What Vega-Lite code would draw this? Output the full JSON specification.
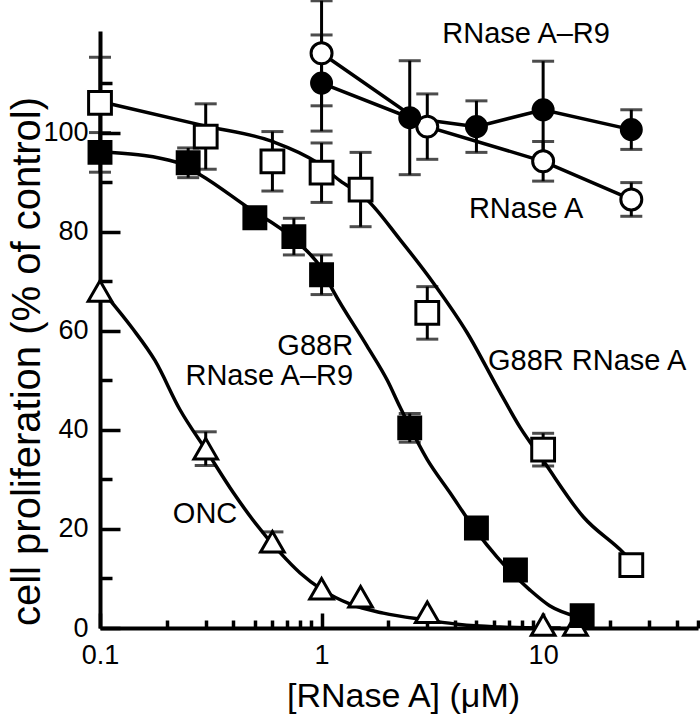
{
  "$schema": "https://vega.github.io/schema/vega-lite/v6.json",
  "width": 598,
  "height": 597,
  "autosize": {"type": "none"},
  "padding": {"left": 100, "top": 31, "right": 2, "bottom": 91},
  "background": "white",
  "config": {"view": {"stroke": null}, "font": "Liberation Sans"},
  "datasets": {
    "points": [
      {"series": "ONC", "x": 0.1, "y": 68, "err": 0},
      {"series": "ONC", "x": 0.3, "y": 36.2, "err": 3.4},
      {"series": "ONC", "x": 0.6, "y": 17.4, "err": 2},
      {"series": "ONC", "x": 1, "y": 7.9, "err": 0},
      {"series": "ONC", "x": 1.5, "y": 6.3, "err": 0},
      {"series": "ONC", "x": 3, "y": 3.2, "err": 0},
      {"series": "ONC", "x": 10, "y": 0.6, "err": 0},
      {"series": "ONC", "x": 14, "y": 0.6, "err": 0},
      {"series": "G88R", "x": 0.1, "y": 106, "err": 9.2},
      {"series": "G88R", "x": 0.3, "y": 99.2, "err": 6.6},
      {"series": "G88R", "x": 0.6, "y": 94.2, "err": 6},
      {"series": "G88R", "x": 1, "y": 91.9, "err": 6},
      {"series": "G88R", "x": 1.5, "y": 88.5, "err": 7.5},
      {"series": "G88R", "x": 3, "y": 63.6, "err": 5.3},
      {"series": "G88R", "x": 10, "y": 36, "err": 3.3},
      {"series": "G88R", "x": 25, "y": 12.7, "err": 0},
      {"series": "G88R-R9", "x": 0.1, "y": 96, "err": 4},
      {"series": "G88R-R9", "x": 0.25, "y": 93.9, "err": 3},
      {"series": "G88R-R9", "x": 0.5, "y": 82.8, "err": 0},
      {"series": "G88R-R9", "x": 0.75, "y": 79, "err": 3.7},
      {"series": "G88R-R9", "x": 1, "y": 71.3, "err": 4},
      {"series": "G88R-R9", "x": 2.5, "y": 40.4, "err": 2.9},
      {"series": "G88R-R9", "x": 5, "y": 20.2, "err": 0},
      {"series": "G88R-R9", "x": 7.5, "y": 11.7, "err": 0},
      {"series": "G88R-R9", "x": 15, "y": 2.5, "err": 0},
      {"series": "A", "x": 1, "y": 116, "err": 10.6},
      {"series": "A", "x": 3, "y": 101.2, "err": 6.6},
      {"series": "A", "x": 10, "y": 94.2, "err": 4},
      {"series": "A", "x": 25, "y": 86.5, "err": 3.4},
      {"series": "R9", "x": 1, "y": 110, "err": 9.7},
      {"series": "R9", "x": 2.5, "y": 103, "err": 11.5},
      {"series": "R9", "x": 5, "y": 101.2, "err": 5.2},
      {"series": "R9", "x": 10, "y": 104.6, "err": 9.8},
      {"series": "R9", "x": 25, "y": 100.6, "err": 4}
    ],
    "curves": [
      {"series": "ONC", "x": 0.108, "y": 66.8},
      {"series": "ONC", "x": 0.14, "y": 60.5},
      {"series": "ONC", "x": 0.177, "y": 54},
      {"series": "ONC", "x": 0.23, "y": 44},
      {"series": "ONC", "x": 0.3, "y": 36},
      {"series": "ONC", "x": 0.4, "y": 27.3},
      {"series": "ONC", "x": 0.49, "y": 21.8},
      {"series": "ONC", "x": 0.65, "y": 15.2},
      {"series": "ONC", "x": 0.8, "y": 11.1},
      {"series": "ONC", "x": 1.0, "y": 7.8},
      {"series": "ONC", "x": 1.35, "y": 4.8},
      {"series": "ONC", "x": 1.9, "y": 3.0},
      {"series": "ONC", "x": 3, "y": 1.6},
      {"series": "ONC", "x": 4.2, "y": 0.7},
      {"series": "ONC", "x": 6.4, "y": 0.2},
      {"series": "ONC", "x": 10, "y": 0},
      {"series": "ONC", "x": 12, "y": 0},
      {"series": "G88R", "x": 0.113, "y": 105.7},
      {"series": "G88R", "x": 0.3, "y": 101.3},
      {"series": "G88R", "x": 0.6, "y": 98.2},
      {"series": "G88R", "x": 0.95, "y": 94},
      {"series": "G88R", "x": 1.21, "y": 90.3},
      {"series": "G88R", "x": 1.6, "y": 86.5},
      {"series": "G88R", "x": 2.26, "y": 78.4},
      {"series": "G88R", "x": 3.19, "y": 69.7},
      {"series": "G88R", "x": 4.54, "y": 59.6},
      {"series": "G88R", "x": 6.4, "y": 47.5},
      {"series": "G88R", "x": 7.87, "y": 40.5},
      {"series": "G88R", "x": 10, "y": 33.8},
      {"series": "G88R", "x": 15.2, "y": 22.4},
      {"series": "G88R", "x": 23, "y": 15.2},
      {"series": "G88R", "x": 25, "y": 13.5},
      {"series": "G88R-R9", "x": 0.113, "y": 96},
      {"series": "G88R-R9", "x": 0.222, "y": 94},
      {"series": "G88R-R9", "x": 0.283, "y": 91.5},
      {"series": "G88R-R9", "x": 0.461, "y": 85},
      {"series": "G88R-R9", "x": 0.75, "y": 78.5},
      {"series": "G88R-R9", "x": 1.0, "y": 72.5},
      {"series": "G88R-R9", "x": 1.13, "y": 68},
      {"series": "G88R-R9", "x": 1.6, "y": 57},
      {"series": "G88R-R9", "x": 1.98, "y": 50},
      {"series": "G88R-R9", "x": 2.26, "y": 44.6},
      {"series": "G88R-R9", "x": 3.0, "y": 34},
      {"series": "G88R-R9", "x": 3.8, "y": 27.3},
      {"series": "G88R-R9", "x": 5.0, "y": 19.5},
      {"series": "G88R-R9", "x": 6.2, "y": 14.3},
      {"series": "G88R-R9", "x": 8.7, "y": 7.7},
      {"series": "G88R-R9", "x": 10.7, "y": 4.5},
      {"series": "G88R-R9", "x": 14.2, "y": 2.3}
    ],
    "labels": [
      {"x": 8.38, "y": 118.1, "text": "RNase A–R9"},
      {"x": 8.38, "y": 82.8, "text": "RNase A"},
      {"x": 15.8, "y": 52.1, "text": "G88R RNase A"},
      {"x": 0.298, "y": 21.2, "text": "ONC"}
    ],
    "rlabels": [
      {"x": 1.388, "y": 55.1, "text": "G88R"},
      {"x": 1.388, "y": 49.05, "text": "RNase A–R9"}
    ]
  },
  "layer": [
    {
      "data": {"name": "curves"},
      "mark": {"type": "line", "interpolate": "monotone", "strokeWidth": 3.5, "color": "black"},
      "encoding": {
        "x": {"field": "x", "type": "quantitative",
          "scale": {"type": "log", "domain": [0.1, 50], "nice": false},
          "axis": {"orient": "bottom", "values": [0.1, 1, 10], "format": "~g", "grid": false,
            "title": "[RNase A] (μM)", "titleFont": "Liberation Sans", "titleFontSize": 34, "titleFontWeight": "normal", "titleColor": "black",
            "titleX": 303, "titleY": 78, "titleBaseline": "alphabetic",
            "tickSize": -15, "tickWidth": 3.5, "tickColor": "black",
            "domainColor": "black", "domainWidth": 4,
            "labelFont": "Liberation Sans", "labelFontSize": 27, "labelColor": "black", "labelPadding": 29,
            "labelFlush": false, "labelOverlap": false}},
        "y": {"field": "y", "type": "quantitative",
          "scale": {"domain": [0, 120.5], "nice": false, "zero": false},
          "axis": {"orient": "left", "values": [0, 20, 40, 60, 80, 100], "format": "d", "grid": false,
            "title": "cell proliferation (% of control)", "titleFont": "Liberation Sans", "titleFontSize": 40, "titleFontWeight": "normal", "titleColor": "black",
            "titleX": -61, "titleY": 330, "titleBaseline": "alphabetic",
            "tickSize": -20, "tickWidth": 3.5, "tickColor": "black",
            "domainColor": "black", "domainWidth": 4,
            "labelFont": "Liberation Sans", "labelFontSize": 27, "labelColor": "black", "labelPadding": 32,
            "labelFlush": false, "labelOverlap": false}},
        "detail": {"field": "series"}
      }
    },
    {
      "data": {"name": "points"},
      "transform": [{"filter": "datum.series == 'A' || datum.series == 'R9'"}],
      "mark": {"type": "line", "strokeWidth": 3.5, "color": "black"},
      "encoding": {
        "x": {"field": "x", "type": "quantitative",
          "scale": {"type": "log", "domain": [0.1, 50], "nice": false},
          "axis": {"orient": "bottom", "values": [0.2, 0.3, 0.4, 0.5, 0.6, 0.7, 0.8, 0.9, 2, 3, 4, 5, 6, 7, 8, 9, 20, 30, 40, 50],
            "labels": false, "domain": false, "grid": false, "title": null,
            "tickSize": -8, "tickWidth": 3.5, "tickColor": "black"}},
        "y": {"field": "y", "type": "quantitative",
          "scale": {"domain": [0, 120.5], "nice": false, "zero": false},
          "axis": {"orient": "left", "values": [10, 30, 50, 70, 90, 110],
            "labels": false, "domain": false, "grid": false, "title": null,
            "tickSize": -12, "tickWidth": 3.5, "tickColor": "black"}},
        "detail": {"field": "series"}
      }
    },
    {
      "data": {"name": "points"},
      "transform": [{"filter": "datum.err > 0"}],
      "mark": {"type": "errorbar", "ticks": true, "size": 22, "thickness": 3, "color": "black"},
      "encoding": {
        "x": {"field": "x", "type": "quantitative", "scale": {"type": "log", "domain": [0.1, 50], "nice": false}, "axis": null},
        "y": {"field": "y", "type": "quantitative", "scale": {"domain": [0, 120.5], "nice": false, "zero": false}, "axis": null},
        "yError": {"field": "err"}
      }
    },
    {
      "data": {"name": "points"},
      "mark": {"type": "point", "filled": true, "stroke": "black", "strokeWidth": 3, "opacity": 1},
      "encoding": {
        "x": {"field": "x", "type": "quantitative", "scale": {"type": "log", "domain": [0.1, 50], "nice": false}, "axis": null},
        "y": {"field": "y", "type": "quantitative", "scale": {"domain": [0, 120.5], "nice": false, "zero": false}, "axis": null},
        "shape": {"field": "series", "type": "nominal", "legend": null,
          "scale": {"domain": ["ONC", "G88R", "G88R-R9", "A", "R9"], "range": ["triangle-up", "square", "square", "circle", "circle"]}},
        "fill": {"field": "series", "type": "nominal", "legend": null,
          "scale": {"domain": ["ONC", "G88R", "G88R-R9", "A", "R9"], "range": ["white", "white", "black", "white", "black"]}},
        "size": {"field": "series", "type": "nominal", "legend": null,
          "scale": {"domain": ["ONC", "G88R", "G88R-R9", "A", "R9"], "range": [560, 400, 400, 400, 400]}}
      }
    },
    {
      "data": {"name": "labels"},
      "mark": {"type": "text", "font": "Liberation Sans", "fontSize": 29, "color": "black", "align": "center", "baseline": "alphabetic"},
      "encoding": {
        "x": {"field": "x", "type": "quantitative", "scale": {"type": "log", "domain": [0.1, 50], "nice": false}, "axis": null},
        "y": {"field": "y", "type": "quantitative", "scale": {"domain": [0, 120.5], "nice": false, "zero": false}, "axis": null},
        "text": {"field": "text"}
      }
    },
    {
      "data": {"name": "rlabels"},
      "mark": {"type": "text", "font": "Liberation Sans", "fontSize": 29, "color": "black", "align": "right", "baseline": "alphabetic"},
      "encoding": {
        "x": {"field": "x", "type": "quantitative", "scale": {"type": "log", "domain": [0.1, 50], "nice": false}, "axis": null},
        "y": {"field": "y", "type": "quantitative", "scale": {"domain": [0, 120.5], "nice": false, "zero": false}, "axis": null},
        "text": {"field": "text"}
      }
    }
  ],
  "resolve": {"axis": {"x": "independent", "y": "independent"}}
}
